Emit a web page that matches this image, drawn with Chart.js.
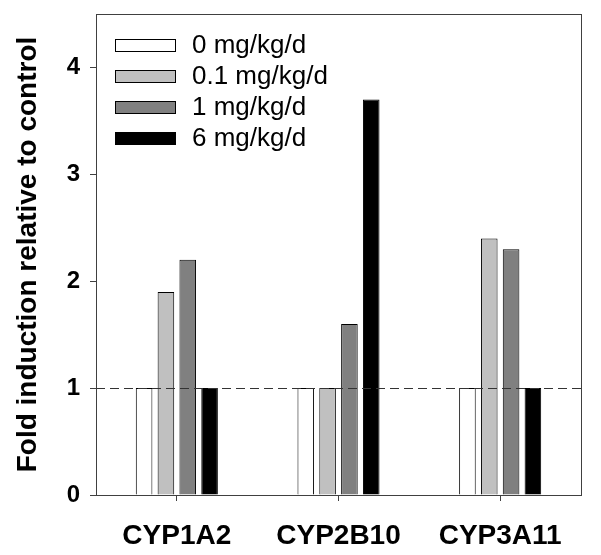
<!DOCTYPE html>
<html><head><meta charset="utf-8">
<script src="https://cdn.jsdelivr.net/npm/chart.js@4"></script>
<style>html,body{margin:0;padding:0;background:#fff}</style>
</head><body>
<canvas id="c" width="601" height="555" style="display:block;width:601px;height:555px"></canvas>
<script>
const categories = ['CYP1A2', 'CYP2B10', 'CYP3A11'];
const seriesLabels = ['0 mg/kg/d', '0.1 mg/kg/d', '1 mg/kg/d', '6 mg/kg/d'];
const dose0 = [1.0, 1.0, 1.0];
const dose01 = [1.9, 1.0, 2.4];
const dose1 = [2.2, 1.6, 2.3];
const dose6 = [1.0, 3.7, 1.0];
const yTicks = [0, 1, 2, 3, 4];
const yMax = 4.5;
const referenceLevel = 1;
const yTitle = 'Fold induction relative to control';

const FONT = '"Liberation Sans", Arial, sans-serif';
const fills = ['#ffffff', '#c0c0c0', '#808080', '#000000'];
const seriesValues = [dose0, dose01, dose1, dose6];

const framePlugin = {
  id: 'frameAndRef',
  afterDatasetsDraw(chart) {
    const ctx = chart.ctx, a = chart.chartArea;
    const y = Math.round(chart.scales.y.getPixelForValue(referenceLevel)) + 0.5;
    ctx.save();
    ctx.strokeStyle = '#333';
    ctx.lineWidth = 1;
    ctx.setLineDash([9, 5]);
    ctx.beginPath();
    ctx.moveTo(a.left, y);
    ctx.lineTo(a.right, y);
    ctx.stroke();
    ctx.setLineDash([]);
    ctx.strokeStyle = '#404040';
    ctx.strokeRect(Math.round(a.left) + 0.5, Math.round(a.top) + 0.5,
      Math.round(a.right - a.left), Math.round(a.bottom - a.top));
    ctx.restore();
  }
};

const legendPlugin = {
  id: 'insideLegend',
  afterDraw(chart) {
    const ctx = chart.ctx, a = chart.chartArea;
    ctx.save();
    ctx.font = '26px ' + FONT;
    ctx.textBaseline = 'middle';
    ctx.textAlign = 'left';
    chart.data.datasets.forEach((ds, i) => {
      const cy = a.top + 30.5 + i * 31;
      const bx = a.left + 19.5, by = Math.round(cy - 6) + 0.5;
      ctx.fillStyle = ds.backgroundColor;
      ctx.fillRect(bx, by, 60, 12);
      ctx.strokeStyle = '#000';
      ctx.lineWidth = 1;
      ctx.strokeRect(bx, by, 60, 12);
      ctx.fillStyle = '#000';
      ctx.fillText(ds.label, a.left + 96, cy + 1);
    });
    ctx.restore();
  }
};

new Chart(document.getElementById('c'), {
  type: 'bar',
  data: {
    labels: categories,
    datasets: seriesLabels.map((lab, i) => ({
      label: lab,
      data: seriesValues[i],
      backgroundColor: fills[i],
      borderColor: '#000',
      borderWidth: 1,
      categoryPercentage: 0.54,
      barPercentage: 0.76
    }))
  },
  options: {
    responsive: false,
    animation: false,
    devicePixelRatio: 1,
    layout: { padding: { top: 14, right: 20, left: 0, bottom: 0 } },
    plugins: { legend: { display: false }, tooltip: { enabled: false } },
    scales: {
      x: {
        offset: true,
        grid: { offset: false, drawOnChartArea: false, drawTicks: true, tickLength: 6, color: '#404040' },
        border: { display: true, color: '#404040', width: 1 },
        ticks: { color: '#000', padding: 18, font: { family: FONT, size: 28, weight: 'bold' } },
        afterFit: s => { s.height = 60; s.paddingLeft = 0; s.paddingRight = 0; }
      },
      y: {
        min: 0,
        max: yMax,
        afterBuildTicks: s => { s.ticks = yTicks.map(v => ({ value: v })); },
        grid: { drawOnChartArea: false, drawTicks: true, tickLength: 6, color: '#404040' },
        border: { display: true, color: '#404040', width: 1 },
        ticks: { color: '#000', padding: 10, font: { family: FONT, size: 24, weight: 'bold' } },
        title: {
          display: true,
          text: yTitle,
          color: '#000',
          padding: { top: 11, bottom: 0 },
          font: { family: FONT, size: 28, weight: 'bold' }
        },
        afterFit: s => { s.width = 96; s.paddingTop = 0; s.paddingBottom = 0; }
      }
    }
  },
  plugins: [framePlugin, legendPlugin]
});
</script>
</body></html>
